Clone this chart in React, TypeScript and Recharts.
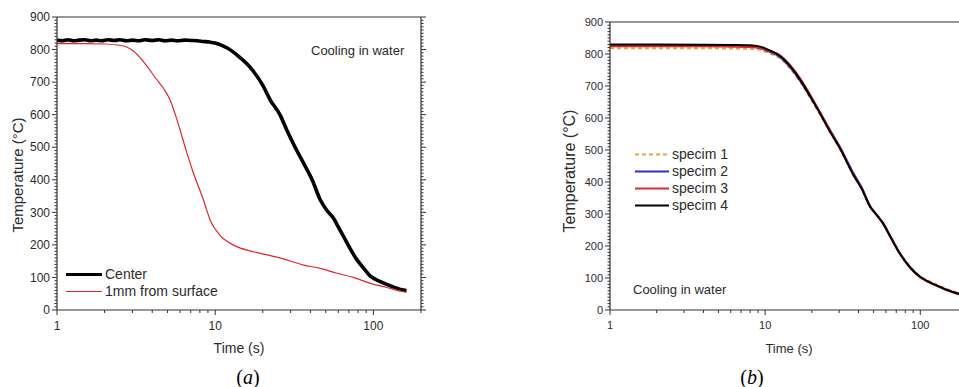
import React from 'react';
import { LineChart, Line, XAxis, YAxis, Legend } from 'recharts';

// (a) thermocouple at the centre vs. 1 mm below the surface
const centerTime = [1, 1.08, 1.17, 1.27, 1.38, 1.5, 1.63, 1.77, 1.92, 2.1, 2.3, 2.5, 2.75, 3, 3.3, 3.6, 4, 4.4, 4.8, 5.3, 5.8, 6.4, 7, 7.7, 8.4, 9.2, 10, 11, 12, 14, 16.6, 20, 22.3, 25.8, 28.4, 32, 36.2, 41, 46.2, 51, 56, 60, 64.9, 71, 78.8, 88, 95.7, 100, 110.7, 130, 155.6, 162];
const centerTemp = [829, 827, 830, 827, 829, 830, 827, 829, 827, 830, 828, 830, 827, 829, 827, 830, 828, 830, 827, 829, 827, 829, 828, 827, 825, 823, 820, 813, 804, 780, 746, 690, 645, 598, 552, 500, 451, 400, 338, 305, 282, 255, 225, 190, 154, 125, 104, 98, 87, 73, 61, 60];

const surfaceTime = [1, 1.5, 2, 2.4, 2.76, 3.1, 3.52, 4.27, 4.71, 5.19, 5.6, 6, 6.6, 7.29, 8.43, 9.3, 10.7, 13, 17.4, 22.3, 27, 36.2, 46, 58.8, 75, 95.7, 120, 155.6, 162];
const surfaceTemp = [818, 818, 817, 814, 808, 792, 763, 708, 681, 645, 600, 553, 485, 420, 338, 276, 230, 200, 179, 167, 157, 138, 128, 113, 100, 82, 70, 56, 55];

// (b) four specimens quenched the same way
const specimTime = [1, 2, 4, 6, 8, 9.3, 10.5, 12.5, 14.5, 16.8, 19.5, 22.6, 26, 30.5, 37, 42, 47.6, 52, 57.7, 65, 74, 85, 100, 110, 127, 150, 176, 200];
const specim1Temp = [818, 818, 818, 817, 816, 813, 803, 786, 754, 713, 662, 610, 558, 501, 421, 377, 323, 301, 273, 227, 179, 139, 106, 94, 80, 65, 54, 49];
const specim2Temp = [827, 827, 826, 825, 823, 818, 808, 790, 758, 717, 667, 616, 565, 508, 428, 382, 324, 299, 270, 224, 176, 136, 103, 91, 77, 62, 51, 46];
const specim3Temp = [824, 824, 824, 823, 822, 819, 810, 795, 765, 724, 673, 618, 563, 505, 424, 379, 322, 298, 269, 223, 175, 135, 102, 90, 76, 61, 50, 45];
const specim4Temp = [830, 830, 829, 828, 827, 823, 813, 794, 762, 720, 668, 614, 560, 503, 423, 378, 322, 299, 270, 224, 176, 136, 103, 91, 77, 62, 51, 46];

// axis ticks
const timeDomain = [1, 200];
const timeMajor = [1, 10, 100];
const timeMinor = [2, 3, 4, 5, 6, 7, 8, 9, 20, 30, 40, 50, 60, 70, 80, 90, 200];
const tempDomain = [0, 900];
const tempMajor = [0, 100, 200, 300, 400, 500, 600, 700, 800, 900];
const tempMinor = Array.from({ length: 91 }, (_, i) => i * 10).filter((v) => v % 100 !== 0);

const toPoints = (t: number[], v: number[]) => t.map((x, i) => ({ t: x, T: v[i] }));

type Series = { name: string; data: { t: number; T: number }[]; color: string; width: number; dash?: string };

const seriesA: Series[] = [
  { name: 'Center', data: toPoints(centerTime, centerTemp), color: '#000000', width: 3.6 },
  { name: '1mm from surface', data: toPoints(surfaceTime, surfaceTemp), color: '#e3262b', width: 1.2 },
];

const seriesB: Series[] = [
  { name: 'specim 1', data: toPoints(specimTime, specim1Temp), color: '#e8a640', width: 2, dash: '4 3' },
  { name: 'specim 2', data: toPoints(specimTime, specim2Temp), color: '#2f2fc8', width: 2 },
  { name: 'specim 3', data: toPoints(specimTime, specim3Temp), color: '#e3262b', width: 2 },
  { name: 'specim 4', data: toPoints(specimTime, specim4Temp), color: '#000000', width: 2 },
];

const FONT = '"Liberation Sans", Arial, sans-serif';
const INK = '#2b2b2b';
const AXIS = '#333333';

// tick marks drawn by hand so majors and minors can share one axis
const makeXTick = (dir: 1 | -1, fontSize: number, labels: boolean) => (props: any) => {
  const { x, y, payload } = props;
  const major = timeMajor.includes(payload.value);
  const len = major ? 5 : 3;
  return (
    <g>
      <line x1={x} x2={x} y1={y} y2={y + dir * len} stroke={AXIS} strokeWidth={1} />
      {labels && major && (
        <text x={x} y={y + len + 6 + fontSize * 0.75} textAnchor="middle" fill={INK} fontSize={fontSize} fontFamily={FONT}>
          {payload.value}
        </text>
      )}
    </g>
  );
};

const makeYTick = (dir: 1 | -1, fontSize: number, labels: boolean) => (props: any) => {
  const { x, y, payload } = props;
  const major = tempMajor.includes(payload.value);
  const len = major ? 5 : 2.5;
  return (
    <g>
      <line x1={x} x2={x + dir * len} y1={y} y2={y} stroke={AXIS} strokeWidth={1} />
      {labels && major && (
        <text x={x - len - 2} y={y + fontSize * 0.35} textAnchor="end" fill={INK} fontSize={fontSize} fontFamily={FONT}>
          {payload.value}
        </text>
      )}
    </g>
  );
};

const frameAxes = (tickFont: number) => {
  const xCommon = {
    type: 'number' as const,
    scale: 'log' as const,
    domain: timeDomain,
    allowDataOverflow: true,
    interval: 0 as const,
    ticks: [...timeMajor, ...timeMinor],
    tickLine: false,
    tickSize: 0,
    tickMargin: 0,
    height: 1,
    axisLine: { stroke: AXIS, strokeWidth: 1.2 },
  };
  const yCommon = {
    type: 'number' as const,
    domain: tempDomain,
    allowDataOverflow: true,
    interval: 0 as const,
    ticks: [...tempMajor, ...tempMinor],
    tickLine: false,
    tickSize: 0,
    tickMargin: 0,
    width: 1,
    axisLine: { stroke: AXIS, strokeWidth: 1.2 },
  };
  return [
    <XAxis key="x" xAxisId="x" dataKey="t" {...xCommon} tick={makeXTick(1, tickFont, true)} />,
    <XAxis key="xt" xAxisId="xt" orientation="top" {...xCommon} tick={makeXTick(-1, tickFont, false)} />,
    <YAxis key="y" yAxisId="y" dataKey="T" {...yCommon} tick={makeYTick(-1, tickFont, true)} />,
    <YAxis key="yr" yAxisId="yr" orientation="right" {...yCommon} tick={makeYTick(1, tickFont, false)} />,
  ];
};

const legendBox = (series: Series[], lineLen: number, rowH: number, fontSize: number) => () => (
  <div style={{ fontFamily: FONT, fontSize, color: INK, lineHeight: `${rowH}px` }}>
    {series.map((s) => (
      <div key={s.name} style={{ display: 'flex', alignItems: 'center', height: rowH }}>
        <svg width={lineLen} height={rowH} style={{ marginRight: 3 }}>
          <line x1={0} x2={lineLen} y1={rowH / 2} y2={rowH / 2} stroke={s.color} strokeWidth={Math.min(s.width, 3)} strokeDasharray={s.dash} />
        </svg>
        <span>{s.name}</span>
      </div>
    ))}
  </div>
);

const Text: React.FC<{ x: number; y: number; size: number; rotate?: boolean; serif?: boolean; anchor?: 'start' | 'middle'; children: React.ReactNode }> = ({ x, y, size, rotate, serif, anchor = 'middle', children }) => (
  <div
    style={{
      position: 'absolute',
      left: x,
      top: y,
      transform: `translate(${anchor === 'middle' ? '-50%' : '0'}, -50%)${rotate ? ' rotate(-90deg)' : ''}`,
      fontFamily: serif ? '"Liberation Serif", "Times New Roman", serif' : FONT,
      fontSize: size,
      color: serif ? '#000' : INK,
      whiteSpace: 'nowrap',
    }}
  >
    {children}
  </div>
);

const renderLines = (series: Series[]) =>
  series.map((s) => (
    <Line
      key={s.name}
      name={s.name}
      data={s.data}
      dataKey="T"
      xAxisId="x"
      yAxisId="y"
      type="monotone"
      stroke={s.color}
      strokeWidth={s.width}
      strokeDasharray={s.dash}
      strokeLinejoin="round"
      dot={false}
      activeDot={false}
      isAnimationActive={false}
    />
  ));

export default function App() {
  return (
    <div style={{ position: 'fixed', left: 0, top: 0, width: 959, height: 387, overflow: 'hidden', background: '#fff' }}>
      {/* plot area 57..421 x 17..310 */}
      <div style={{ position: 'absolute', left: 0, top: 0 }}>
        <LineChart width={440} height={340} margin={{ top: 16, right: 18, bottom: 29, left: 56 }}>
          {frameAxes(12)}
          {renderLines(seriesA)}
          <Legend
            layout="horizontal"
            verticalAlign="middle"
            align="center"
            content={legendBox(seriesA, 36, 17, 14)}
            wrapperStyle={{ left: 66, top: 266, width: 'auto', height: 'auto' }}
          />
        </LineChart>
      </div>
      {/* plot area 610..967 x 22..310, right edge falls off the page */}
      <div style={{ position: 'absolute', left: 540, top: 0 }}>
        <LineChart width={440} height={340} margin={{ top: 21, right: 12, bottom: 29, left: 69 }}>
          {frameAxes(11)}
          {renderLines(seriesB)}
          <Legend
            layout="horizontal"
            verticalAlign="middle"
            align="center"
            content={legendBox(seriesB, 34, 17, 14)}
            wrapperStyle={{ left: 95, top: 146, width: 'auto', height: 'auto' }}
          />
        </LineChart>
      </div>

      <Text x={17} y={175} size={15} rotate>Temperature (°C)</Text>
      <Text x={239} y={348} size={14}>Time (s)</Text>
      <Text x={311} y={50} size={13} anchor="start">Cooling in water</Text>
      <Text x={248} y={377} size={20} serif>(<i>a</i>)</Text>

      <Text x={570} y={171} size={16} rotate>Temperature (°C)</Text>
      <Text x={789} y={348} size={13}>Time (s)</Text>
      <Text x={633} y={289} size={13} anchor="start">Cooling in water</Text>
      <Text x={752} y={377} size={20} serif>(<i>b</i>)</Text>
    </div>
  );
}
